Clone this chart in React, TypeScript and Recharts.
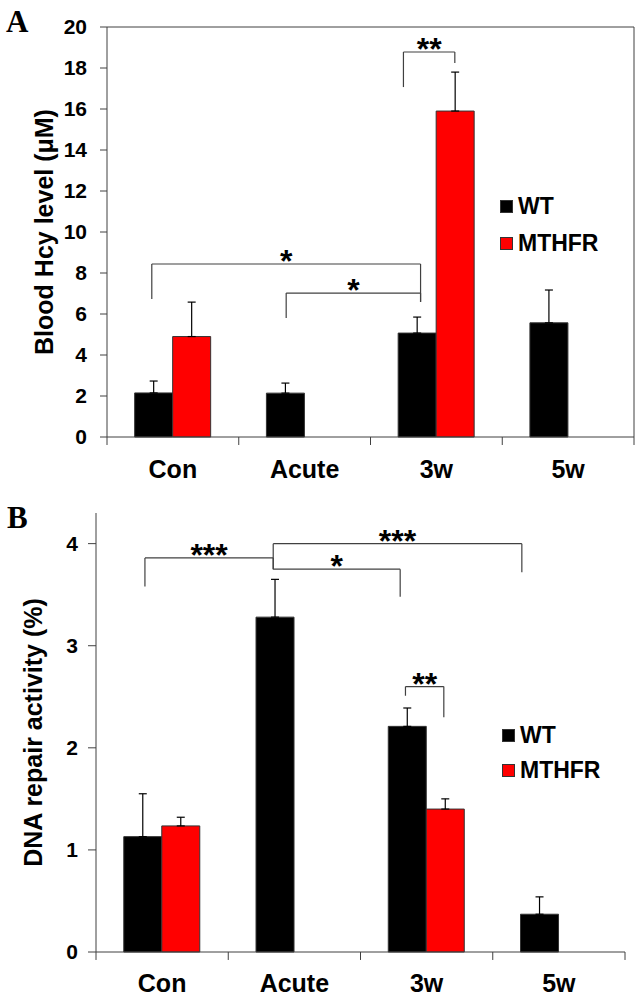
import React from "react";
import {
  BarChart,
  Bar,
  XAxis,
  YAxis,
  ErrorBar,
  ReferenceLine,
  Legend,
} from "recharts";

const categories = ["Con", "Acute", "3w", "5w"];
const seriesNames = ["WT", "MTHFR"];

// Panel A: blood Hcy level (µM), mean and upper error
const hcyWT = [2.15, 2.14, 5.07, 5.57];
const hcyWTErr = [0.58, 0.49, 0.78, 1.6];
const hcyMTHFR = [4.9, null, 15.9, null];
const hcyMTHFRErr = [1.68, null, 1.9, null];
const hcyTicks = [0, 2, 4, 6, 8, 10, 12, 14, 16, 18, 20];

// Panel B: DNA repair activity (%)
const dnaWT = [1.13, 3.28, 2.21, 0.37];
const dnaWTErr = [0.42, 0.37, 0.18, 0.17];
const dnaMTHFR = [1.235, null, 1.4, null];
const dnaMTHFRErr = [0.085, null, 0.1, null];
const dnaTicks = [0, 1, 2, 3, 4];

// category boundaries (x in category units, 0..4 across the plot)
const boundaries = [0, 1, 2, 3, 4];

type Bracket = { x1: number; x2: number; y: number; y1: number; y2: number; label: string };

// significance brackets
const hcyBrackets: Bracket[] = [
  { x1: 0.34, x2: 2.38, y: 8.44, y1: 6.73, y2: 6.59, label: "*" },
  { x1: 1.36, x2: 2.38, y: 7.02, y1: 5.8, y2: 6.59, label: "*" },
  { x1: 2.25, x2: 2.64, y: 18.78, y1: 17.07, y2: 18.24, label: "**" },
];
const dnaBrackets: Bracket[] = [
  { x1: 0.37, x2: 1.34, y: 3.86, y1: 3.58, y2: 3.75, label: "***" },
  { x1: 1.34, x2: 3.22, y: 4.0, y1: 3.75, y2: 3.72, label: "***" },
  { x1: 1.34, x2: 2.3, y: 3.75, y1: 3.75, y2: 3.48, label: "*" },
  { x1: 2.34, x2: 2.63, y: 2.6, y1: 2.51, y2: 2.3, label: "**" },
];

const FONT = '"Liberation Sans", Arial, Helvetica, sans-serif';
const AXIS = "#404040";

const buildRows = (
  wt: (number | null)[],
  wtErr: (number | null)[],
  mt: (number | null)[],
  mtErr: (number | null)[]
) =>
  categories.map((cat, i) => ({
    cat,
    pos: i + 0.5, // category centre on the 0..4 helper axis
    wt: wt[i],
    mt: mt[i],
    // error bars only go upward
    wtErr: wtErr[i] == null ? null : [0, wtErr[i]],
    mtErr: mtErr[i] == null ? null : [0, mtErr[i]],
  }));

const renderBracket = (b: Bracket, i: number) => {
  const common = {
    xAxisId: "n",
    ifOverflow: "visible" as const,
    stroke: AXIS,
    strokeWidth: 1.2,
  };
  return [
    <ReferenceLine
      key={`bl${i}`}
      {...common}
      segment={[
        { x: b.x1, y: b.y1 },
        { x: b.x1, y: b.y },
      ]}
    />,
    <ReferenceLine
      key={`bt${i}`}
      {...common}
      segment={[
        { x: b.x1, y: b.y },
        { x: b.x2, y: b.y },
      ]}
      label={{
        value: b.label,
        position: "top",
        offset: -8,
        fill: "#000",
        fontSize: 32,
        fontWeight: "bold",
        fontFamily: FONT,
      }}
    />,
    <ReferenceLine
      key={`br${i}`}
      {...common}
      segment={[
        { x: b.x2, y: b.y },
        { x: b.x2, y: b.y2 },
      ]}
    />,
  ];
};

const legendContent = (rowH: number) => (props: any) => {
  const items = [...(props.payload || [])].sort(
    (a: any, b: any) => seriesNames.indexOf(a.value) - seriesNames.indexOf(b.value)
  );
  return (
    <div style={{ fontFamily: FONT, fontWeight: "bold", fontSize: 23, color: "#000" }}>
      {items.map((e: any) => (
        <div key={e.value} style={{ display: "flex", alignItems: "center", height: rowH }}>
          <span
            style={{
              display: "inline-block",
              width: 11,
              height: 11,
              background: e.payload?.fill ?? e.color,
              border: "1px solid #333",
              marginRight: 5,
            }}
          />
          <span>{e.value}</span>
        </div>
      ))}
    </div>
  );
};

interface PanelProps {
  rows: any[];
  yMax: number;
  ticks: number[];
  title: string;
  brackets: Bracket[];
  boxed: boolean;
  height: number;
  margin: { top: number; right: number; left: number; bottom: number };
  tickSize: number;
  tickMargin: number;
  xTickMargin: number;
  tickLen: number;
  legendPos: { left: number; top: number; rowH: number };
}

function Panel(p: PanelProps) {
  const tickFont = { fill: "#000", fontSize: 21, fontWeight: "bold", fontFamily: FONT };
  return (
    <BarChart
      width={641}
      height={p.height}
      data={p.rows}
      margin={p.margin}
      barCategoryGap="21%"
      barGap={0}
    >
      <XAxis
        dataKey="cat"
        interval={0}
        height={40}
        tickLine={false}
        tickSize={0}
        tickMargin={p.xTickMargin}
        axisLine={{ stroke: AXIS }}
        tick={{ ...tickFont, fontSize: 25 }}
      />
      <XAxis
        xAxisId="n"
        dataKey="pos"
        type="number"
        domain={[0, 4]}
        allowDataOverflow
        hide
      />
      <YAxis
        width={60}
        domain={[0, p.yMax]}
        ticks={p.ticks}
        interval={0}
        tickSize={p.tickSize}
        tickMargin={p.tickMargin}
        axisLine={{ stroke: AXIS }}
        tickLine={{ stroke: AXIS }}
        tick={tickFont}
        label={{
          value: p.title,
          angle: -90,
          position: "center",
          dx: -33,
          fill: "#000",
          fontSize: 25,
          fontWeight: "bold",
          fontFamily: FONT,
        }}
      />
      <Legend
        layout="vertical"
        align="center"
        verticalAlign="middle"
        wrapperStyle={{ left: p.legendPos.left, top: p.legendPos.top, width: "auto" }}
        content={legendContent(p.legendPos.rowH)}
      />
      {p.boxed && (
        <ReferenceLine y={p.yMax} stroke={AXIS} ifOverflow="visible" />
      )}
      {p.boxed && (
        <ReferenceLine xAxisId="n" x={4} stroke={AXIS} ifOverflow="visible" />
      )}
      {boundaries.map((v) => (
        <ReferenceLine
          key={`tk${v}`}
          xAxisId="n"
          ifOverflow="visible"
          stroke={AXIS}
          segment={[
            { x: v, y: 0 },
            { x: v, y: -p.tickLen },
          ]}
        />
      ))}
      <Bar dataKey="wt" name="WT" fill="#000000" stroke="#333" isAnimationActive={false}>
        <ErrorBar dataKey="wtErr" width={4} stroke="#000" strokeWidth={1.2} direction="y" />
      </Bar>
      <Bar dataKey="mt" name="MTHFR" fill="#ff0000" stroke="#333" isAnimationActive={false}>
        <ErrorBar dataKey="mtErr" width={4} stroke="#000" strokeWidth={1.2} direction="y" />
      </Bar>
      {p.brackets.map((b, i) => renderBracket(b, i))}
    </BarChart>
  );
}

const panelLabel: React.CSSProperties = {
  position: "absolute",
  left: 6,
  fontFamily: '"Liberation Serif", "Times New Roman", serif',
  fontWeight: "bold",
  fontSize: 31,
  lineHeight: 1,
  color: "#000",
};

export default function App() {
  const hcyRows = buildRows(hcyWT, hcyWTErr, hcyMTHFR, hcyMTHFRErr);
  const dnaRows = buildRows(dnaWT, dnaWTErr, dnaMTHFR, dnaMTHFRErr);

  return (
    <div
      style={{
        position: "absolute",
        left: 0,
        top: 0,
        width: 641,
        height: 998,
        background: "#fff",
        fontFamily: FONT,
      }}
    >
      <div style={{ ...panelLabel, top: 6 }}>A</div>
      <div style={{ ...panelLabel, top: 502, left: 7 }}>B</div>
      <div style={{ position: "absolute", left: 0, top: 0 }}>
        <Panel
          rows={hcyRows}
          yMax={20}
          ticks={hcyTicks}
          title="Blood Hcy level (μM)"
          brackets={hcyBrackets}
          boxed
          height={500}
          margin={{ top: 27, right: 7, left: 47, bottom: 23 }}
          tickSize={7}
          tickMargin={13}
          xTickMargin={23}
          tickLen={0.39}
          legendPos={{ left: 500, top: 188, rowH: 37 }}
        />
      </div>
      <div style={{ position: "absolute", left: 0, top: 500 }}>
        <Panel
          rows={dnaRows}
          yMax={4.3}
          ticks={dnaTicks}
          title="DNA repair activity (%)"
          brackets={dnaBrackets}
          boxed={false}
          height={498}
          margin={{ top: 13, right: 16, left: 36, bottom: 6 }}
          tickSize={8}
          tickMargin={10}
          xTickMargin={22}
          tickLen={0.078}
          legendPos={{ left: 502, top: 218, rowH: 35 }}
        />
      </div>
    </div>
  );
}
